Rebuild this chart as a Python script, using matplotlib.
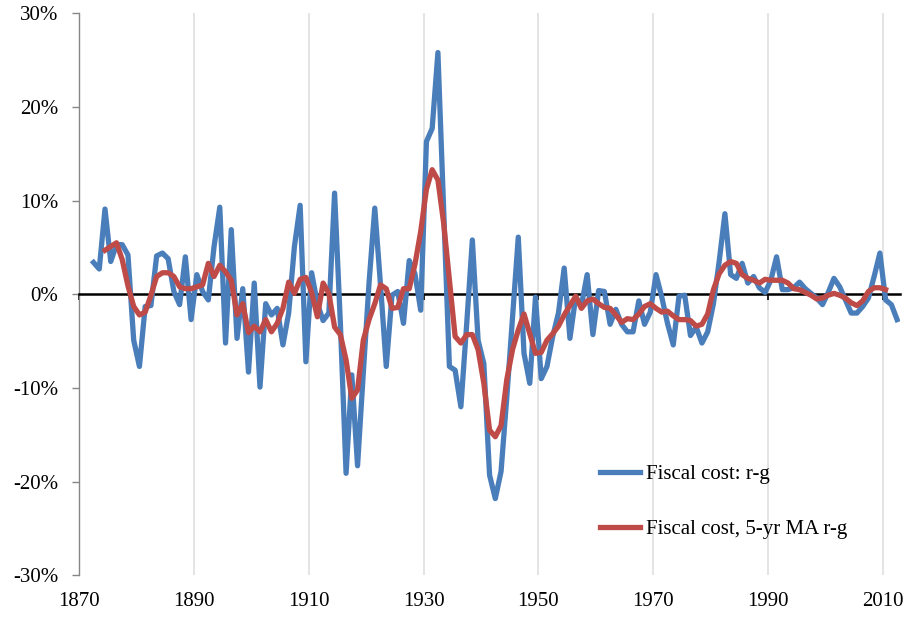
import numpy as np
import matplotlib
matplotlib.use("Agg")
import matplotlib.pyplot as plt

plt.rcParams['font.family'] = ['Liberation Serif', 'DejaVu Serif']
plt.rcParams['axes.unicode_minus'] = False

# annual fiscal cost r-g (%), 1872-2012
years_rg = np.arange(1872, 2013)
rg = [
    3.4, 2.7, 9.1, 3.5, 5.3, 5.3, 4.2, -4.9, -7.7, -1.3,          # 1872-1881
    -1.2, 4.1, 4.4, 3.8, 0.3, -1.1, 4.0, -2.7, 2.1, 0.3,          # 1882-1891
    -0.6, 5.1, 9.3, -5.2, 6.9, -4.7, 0.6, -8.3, 1.2, -9.9,        # 1892-1901
    -1.0, -2.2, -1.5, -5.4, -2.0, 5.1, 9.5, -7.2, 2.3, -1.0,      # 1902-1911
    -2.8, -2.0, 10.8, -3.0, -19.1, -8.6, -18.3, -8.4, 1.2, 9.2,   # 1912-1921
    1.0, -7.7, -0.1, 0.3, -3.1, 3.6, 2.2, -1.7, 16.3, 17.7,       # 1922-1931
    25.8, 9.0, -7.7, -8.1, -12.0, -3.3, 5.8, -4.9, -7.4, -19.3,   # 1932-1941
    -21.8, -18.9, -11.0, -2.4, 6.1, -6.3, -9.5, -0.3, -9.0, -7.7, # 1942-1951
    -4.5, -2.0, 2.8, -4.7, -0.3, -1.2, 2.1, -4.3, 0.4, 0.3,       # 1952-1961
    -3.2, -1.6, -3.2, -4.0, -4.0, -0.7, -3.2, -1.9, 2.1, -0.3,    # 1962-1971
    -3.1, -5.4, -0.2, -0.1, -4.4, -3.5, -5.2, -4.0, -1.0, 3.5,    # 1972-1981
    8.6, 2.1, 1.7, 3.3, 1.2, 1.9, 0.7, 0.2, 1.5, 4.0,             # 1982-1991
    0.5, 0.5, 0.7, 1.3, 0.6, 0.1, -0.4, -1.1, 0.2, 1.7,           # 1992-2001
    0.8, -0.6, -2.0, -2.0, -1.3, -0.4, 1.9, 4.4, -0.6, -1.1,      # 2002-2011
    -2.7,                                                          # 2012
]

# 5-yr moving average (%), 1874-2010
years_ma = np.arange(1874, 2011)
ma = [
    4.7, 5.1, 5.5, 3.7, 0.9, -1.3, -2.2, -1.9, -0.1, 1.9,         # 1874-1883
    2.3, 2.3, 1.9, 0.8, 0.6, 0.6, 0.8, 1.0, 3.3, 1.9,             # 1884-1893
    3.1, 2.4, 1.5, -2.2, -1.0, -4.1, -3.4, -4.0, -2.7, -4.0,      # 1894-1903
    -3.1, -1.5, 1.3, 0.1, 1.6, 1.8, 0.2, -2.4, 1.2, 0.1,          # 1904-1913
    -3.5, -4.3, -7.0, -11.1, -10.2, -4.9, -2.7, -1.0, 1.0, 0.6,   # 1914-1923
    -1.5, -1.4, 0.6, 0.6, 3.2, 6.7, 11.2, 13.3, 12.2, 7.6,        # 1924-1933
    1.5, -4.5, -5.2, -4.3, -4.3, -5.9, -9.5, -14.5, -15.2, -14.0, # 1934-1943
    -9.1, -5.9, -3.8, -2.1, -4.2, -6.3, -6.2, -4.9, -4.2, -3.4,   # 1944-1953
    -2.2, -1.2, -0.2, -1.5, -0.7, -0.5, -1.0, -1.4, -1.5, -2.2,   # 1954-1963
    -3.0, -2.6, -2.7, -2.1, -1.3, -1.0, -1.5, -1.9, -1.8, -2.3,   # 1964-1973
    -2.7, -2.7, -2.8, -3.4, -3.2, -2.1, 0.5, 2.2, 3.1, 3.5,       # 1974-1983
    3.3, 2.1, 1.7, 1.5, 1.2, 1.6, 1.5, 1.5, 1.5, 1.2,             # 1984-1993
    0.6, 0.5, 0.2, -0.1, -0.5, -0.4, -0.1, 0.1, -0.1, -0.4,       # 1994-2003
    -0.9, -1.2, -0.7, 0.3, 0.7, 0.7, 0.5,                         # 2004-2010
]

x_ticks = [1870, 1890, 1910, 1930, 1950, 1970, 1990, 2010]
y_ticks = [-30, -20, -10, 0, 10, 20, 30]

blue = '#4A7EBB'
red = '#BE4B48'

fig = plt.figure(figsize=(9.11, 6.17), dpi=100, facecolor='white')
ax = fig.add_axes([0.0869, 0.0674, 0.9010, 0.9112])

# Excel centres each point inside its year slot
ax.plot(years_rg + 0.5, rg, color=blue, lw=3.8, solid_joinstyle='round',
        label='Fiscal cost: r-g', zorder=3)
ax.plot(years_ma + 0.5, ma, color=red, lw=3.8, solid_joinstyle='round',
        label='Fiscal cost, 5-yr MA r-g', zorder=4)

ax.set_xlim(1870, 2013)
ax.set_ylim(-30, 30)

# x axis line crosses at zero, labels sit at the bottom
ax.spines['bottom'].set_position(('data', 0))
ax.spines['bottom'].set_color('black')
ax.spines['bottom'].set_linewidth(1.8)
ax.spines['top'].set_visible(False)
ax.spines['right'].set_visible(False)
ax.spines['left'].set_color('#868686')
ax.spines['left'].set_linewidth(1.0)

ax.set_xticks(x_ticks)
ax.tick_params(axis='x', direction='out', length=4, width=1.2, color='black',
               labelbottom=False)
ax.grid(axis='x', color='#DDDDDD', linewidth=1.1)
ax.set_axisbelow(True)

ax.set_yticks(y_ticks)
ax.set_yticklabels([f"{v}%" for v in y_ticks])
ax.tick_params(axis='y', direction='out', length=5, width=1.0, color='#868686',
               labelsize=15, pad=10)

sec = ax.secondary_xaxis('bottom')
sec.set_xticks(x_ticks)
sec.set_xticklabels([str(t) for t in x_ticks])
sec.tick_params(length=0, labelsize=15, pad=12)
sec.spines['bottom'].set_visible(False)

fig.legend(loc='center left', bbox_to_anchor=(600 / 911, 1 - 502 / 617),
           frameon=False, fontsize=15, handlelength=1.9, handletextpad=0.3,
           labelspacing=1.7, borderpad=0, borderaxespad=0)

fig.savefig('out.png', dpi=100, facecolor='white')
